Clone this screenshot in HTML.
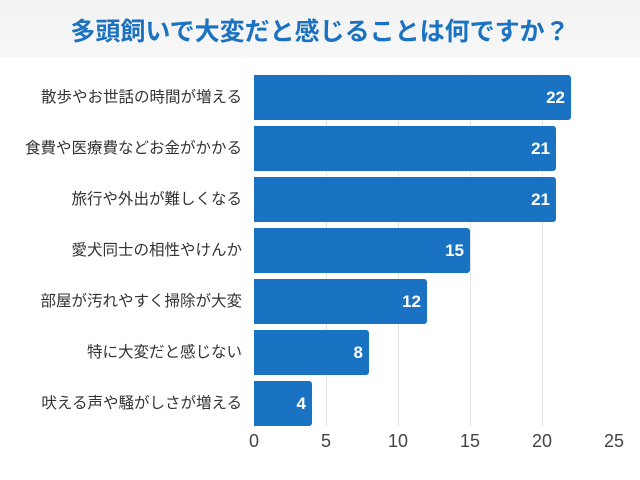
<!DOCTYPE html>
<html><head><meta charset="utf-8"><style>
body{margin:0;width:640px;height:480px;background:#fff;position:relative;overflow:hidden;font-family:"Liberation Sans","Noto Sans CJK JP",sans-serif}
.hd{position:absolute;left:0;top:0;width:640px;height:58px;background:linear-gradient(#f2f2f2,#f7f7f7)}
.t{position:absolute;left:0;width:640px;top:12px;text-align:center;font-size:25px;font-weight:bold;color:#1b72c0}
.g{position:absolute;top:74px;height:352px;width:1px;background:#e4e4e4}
.b{position:absolute;left:254px;height:45px;background:#1a72c2;border-radius:0 3px 3px 0;color:#fff;font-size:17px;font-weight:bold;text-align:right;box-sizing:border-box;padding-right:6px;line-height:45px}
.l{position:absolute;right:398px;font-size:15.5px;color:#333;line-height:45px;white-space:nowrap}
.x{position:absolute;top:431px;font-size:18px;color:#444;width:40px;margin-left:-20px;text-align:center}
</style></head><body>
<div class="hd"></div><div class="t">多頭飼いで大変だと感じることは何ですか？</div>
<div class="g" style="left:326px"></div><div class="g" style="left:398px"></div><div class="g" style="left:470px"></div><div class="g" style="left:542px"></div>
<div class="l" style="top:75px">散歩やお世話の時間が増える</div><div class="b" style="top:75px;width:317px">22</div>
<div class="l" style="top:126px">食費や医療費などお金がかかる</div><div class="b" style="top:126px;width:302px">21</div>
<div class="l" style="top:177px">旅行や外出が難しくなる</div><div class="b" style="top:177px;width:302px">21</div>
<div class="l" style="top:228px">愛犬同士の相性やけんか</div><div class="b" style="top:228px;width:216px">15</div>
<div class="l" style="top:279px">部屋が汚れやすく掃除が大変</div><div class="b" style="top:279px;width:173px">12</div>
<div class="l" style="top:330px">特に大変だと感じない</div><div class="b" style="top:330px;width:115px">8</div>
<div class="l" style="top:381px">吠える声や騒がしさが増える</div><div class="b" style="top:381px;width:58px">4</div>
<div class="x" style="left:254px">0</div><div class="x" style="left:326px">5</div><div class="x" style="left:398px">10</div><div class="x" style="left:470px">15</div><div class="x" style="left:542px">20</div><div class="x" style="left:614px">25</div>
</body></html>
